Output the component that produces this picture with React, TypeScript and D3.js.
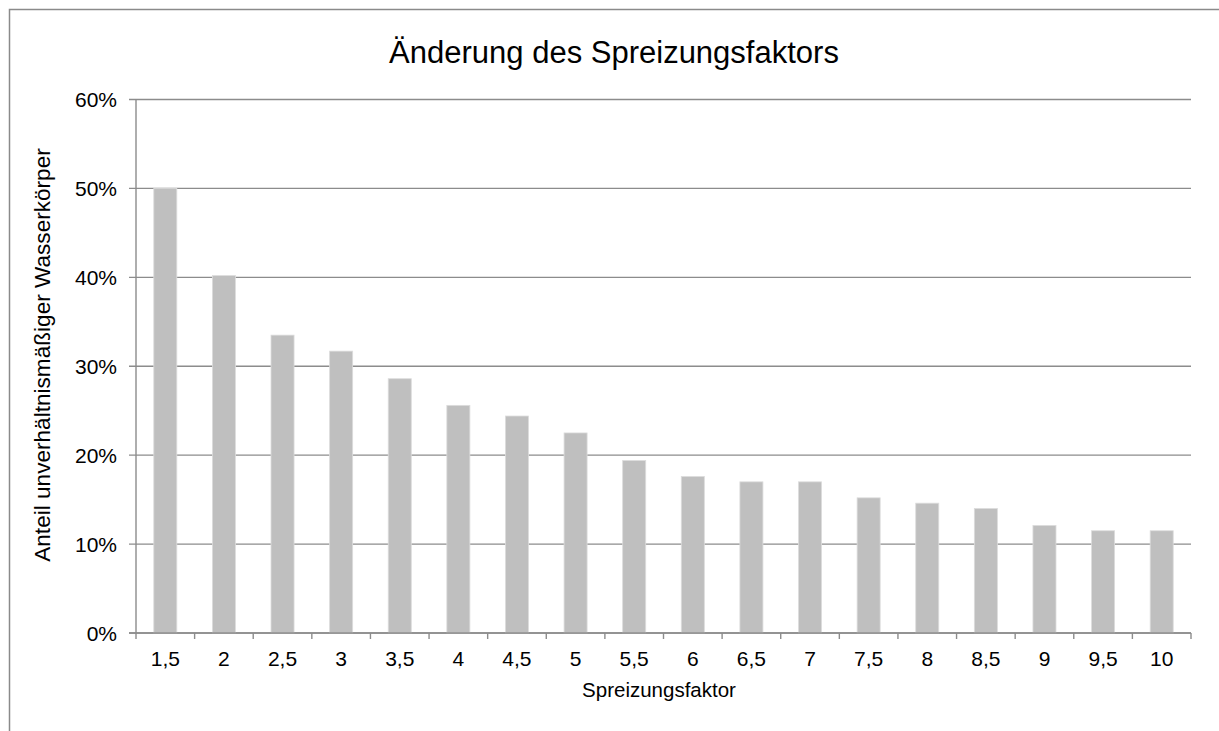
import React from "react";
import * as d3 from "d3";

const TITLE = "Änderung des Spreizungsfaktors";
const X_TITLE = "Spreizungsfaktor";
const Y_TITLE = "Anteil unverhältnismäßiger Wasserkörper";

const categories = [
  "1,5", "2", "2,5", "3", "3,5", "4", "4,5", "5", "5,5",
  "6", "6,5", "7", "7,5", "8", "8,5", "9", "9,5", "10",
];
const values = [
  0.5, 0.402, 0.335, 0.317, 0.286, 0.256, 0.244, 0.225, 0.194,
  0.176, 0.17, 0.17, 0.152, 0.146, 0.14, 0.121, 0.115, 0.115,
];
const yTicks = [0, 0.1, 0.2, 0.3, 0.4, 0.5, 0.6];

const W = 1219;
const H = 731;
const LEFT = 136;
const RIGHT = 1191;
const TOP = 99.5;
const BOTTOM = 633;
const FONT = "'Liberation Sans', Arial, sans-serif";
const GRID = "#8c8c8c";

export default function App() {
  const x = d3
    .scaleBand<string>()
    .domain(categories)
    .range([LEFT, RIGHT])
    .paddingInner(0.607)
    .paddingOuter(0.3035);
  // unpadded band for the tick marks between categories
  const xTick = d3.scaleBand<string>().domain(categories).range([LEFT, RIGHT]);
  const y = d3.scaleLinear().domain([0, 0.6]).range([BOTTOM, TOP]);
  const fmt = (v: number) => `${Math.round(v * 100)}%`;

  return (
    <svg
      width={W}
      height={H}
      style={{ position: "absolute", left: 0, top: 0, background: "#fff" }}
      fontFamily={FONT}
    >
      {/* chart area border (runs off the right / bottom edges) */}
      <path d={`M9.5,${H}V9.5H${W}`} fill="none" stroke="#8a8a8a" strokeWidth={1.5} />

      <text x={614} y={63} textAnchor="middle" fontSize={31} fill="#000">
        {TITLE}
      </text>

      {/* gridlines + y ticks */}
      {yTicks.map((t) => (
        <g key={t}>
          <line x1={LEFT - 7} x2={RIGHT} y1={y(t)} y2={y(t)} stroke={GRID} strokeWidth={1.4} />
          <text x={117} y={y(t) + 7.5} textAnchor="end" fontSize={21} fill="#000">
            {fmt(t)}
          </text>
        </g>
      ))}

      {/* bars */}
      {categories.map((c, i) => (
        <rect
          key={c}
          x={x(c)}
          y={y(values[i])}
          width={x.bandwidth()}
          height={BOTTOM - y(values[i])}
          fill="#bfbfbf"
          stroke="#dcdcdc"
          strokeWidth={0.8}
        />
      ))}

      {/* axes */}
      <line x1={LEFT} x2={LEFT} y1={TOP} y2={BOTTOM} stroke={GRID} strokeWidth={1.4} />
      <line x1={LEFT - 7} x2={RIGHT} y1={BOTTOM} y2={BOTTOM} stroke={GRID} strokeWidth={1.4} />
      {categories.map((c) => (
        <line
          key={"t" + c}
          x1={xTick(c)}
          x2={xTick(c)}
          y1={BOTTOM}
          y2={BOTTOM + 6}
          stroke={GRID}
          strokeWidth={1.4}
        />
      ))}
      <line x1={RIGHT} x2={RIGHT} y1={BOTTOM} y2={BOTTOM + 6} stroke={GRID} strokeWidth={1.4} />

      {categories.map((c) => (
        <text
          key={"l" + c}
          x={(xTick(c) as number) + xTick.bandwidth() / 2}
          y={666}
          textAnchor="middle"
          fontSize={21}
          fill="#000"
        >
          {c}
        </text>
      ))}

      <text x={659} y={697} textAnchor="middle" fontSize={20.5} fill="#000">
        {X_TITLE}
      </text>
      <text
        transform={`translate(50,355) rotate(-90)`}
        textAnchor="middle"
        fontSize={22.6}
        fill="#000"
      >
        {Y_TITLE}
      </text>
    </svg>
  );
}
